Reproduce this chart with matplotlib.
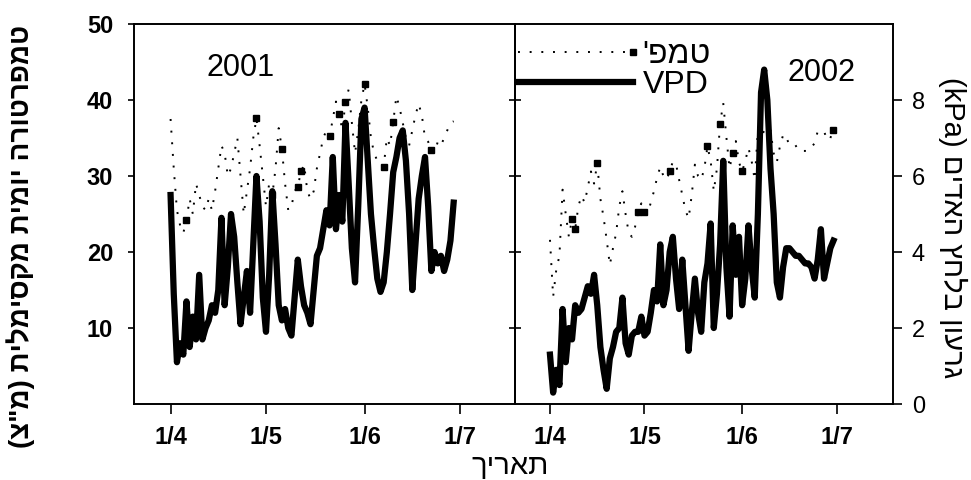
import matplotlib
matplotlib.use("Agg")
import matplotlib.pyplot as plt
from matplotlib.legend_handler import HandlerLine2D
from matplotlib.lines import Line2D
import pandas as pd

HEB = ["Liberation Sans", "DejaVu Sans"]
NARROW = ["Liberation Sans Narrow", "Liberation Sans", "DejaVu Sans"]

# daily values (Apr 1 .. ~Jul 1)
days_2001 = pd.date_range("2001-04-01", periods=90)
temp_2001 = [37.5, 31, 25.5, 23.5, 22.5, 24.2, 27, 25, 29, 27.5,
             26, 25.5, 27, 25.5, 28, 31, 34, 33, 30, 31,
             33, 35, 30, 25, 28, 31, 35, 37.6, 34, 30,
             26, 29, 27.5, 31, 36.3, 33.6, 29, 25.5, 26, 28,
             28.6, 30.6, 31.5, 28, 27, 28, 31, 33, 35, 36,
             35.2, 37.5, 39.8, 38.2, 36, 39.8, 41.4, 37, 33, 36,
             40, 42.1, 39, 35, 33, 32, 31.5, 31.2, 35, 34,
             37.1, 40.5, 39, 37, 35, 34, 36, 38, 39.5, 38,
             35, 34.5, 33.4, 33, 34.5, 34, 35, 36, 37, 37.2]
vpd_2001 = [5.5, 2.9, 1.1, 1.6, 1.3, 2.7, 1.5, 2.3, 1.7, 3.4,
            1.7, 2.0, 2.2, 2.6, 2.4, 3.0, 4.9, 2.6, 3.6, 5.0,
            4.4, 3.2, 2.1, 2.8, 3.5, 2.4, 4.2, 6.0, 4.8, 2.8,
            1.9, 3.4, 5.6, 4.2, 2.6, 2.2, 2.5, 2.0, 1.8, 2.8,
            3.8, 3.1, 2.6, 2.4, 2.1, 3.0, 3.9, 4.1, 4.6, 5.1,
            4.7, 6.5, 4.6, 5.5, 4.8, 7.4, 5.8, 4.1, 3.2, 5.2,
            7.5, 7.8, 6.4, 5.0, 4.1, 3.3, 2.95, 3.2, 4.0, 5.0,
            6.1, 6.5, 7.0, 7.2, 6.4, 5.0, 3.0, 4.2, 5.4, 6.0,
            6.5, 5.2, 3.5, 4.0, 3.7, 3.9, 3.5, 3.8, 4.3, 5.3]
marks_2001 = [5, 27, 32, 35, 40, 41, 50, 53, 55, 61, 67, 70, 82]

days_2002 = pd.date_range("2002-04-01", periods=91)
temp_2002 = [21.6, 14.1, 17.7, 19.5, 28.2, 25.0, 22.0, 24.4, 23.0, 26.0,
             27.4, 26.5, 28.5, 30.6, 29.0, 31.7, 27.0, 24.6, 21.6, 18.3,
             20.5, 22.5, 26.0, 28.0, 25.0, 22.5, 22.0, 23.3, 25.3, 26.4,
             25.3, 25.0, 26.5, 28.0, 29.8, 31.2, 30.0, 29.5, 30.6, 31.9,
             31.6, 29.5, 27.5, 25.5, 24.4, 27.5, 31.5, 30.0, 29.5, 31.0,
             33.9, 32.0, 28.0, 31.0, 36.9, 39.6, 35.1, 31.0, 33.0, 34.6,
             31.8, 30.6, 32.0, 33.7, 32.0, 29.5, 36.0, 35.0, 36.0, 35.5,
             36.0, 33.0, 31.8, 33.9, 35.4, 34.5, 34.7, 34.7, 34.0, 33.3,
             33.3, 33.3, 33.3, 33.8, 34.3, 35.9, 35.9, 35.9, 34.7, 35.0,
             36.0]
vpd_2002 = [1.3, 0.3, 0.9, 0.5, 2.5, 1.1, 2.0, 1.7, 2.6, 2.4,
            2.5, 2.8, 3.1, 2.9, 3.4, 2.6, 1.5, 0.9, 0.4, 1.2,
            1.5, 1.9, 2.0, 2.8, 1.6, 1.3, 1.8, 1.9, 1.9, 2.3,
            1.8, 1.9, 2.4, 3.0, 2.7, 4.2, 2.6, 3.0, 4.0, 4.4,
            3.3, 2.5, 3.8, 2.6, 1.4, 2.4, 3.3, 2.4, 1.9, 3.2,
            3.7, 4.75, 2.0, 2.9, 4.2, 6.4, 3.6, 2.3, 4.7, 3.4,
            4.4, 2.6, 3.3, 4.7, 3.6, 2.8, 5.0, 8.2, 8.8, 8.0,
            6.2, 5.0, 3.2, 2.8, 3.6, 4.1, 4.1, 4.0, 3.9, 3.9,
            3.8, 3.7, 3.7, 3.6, 3.3, 3.8, 4.6, 3.3, 3.7, 4.1,
            4.3]
marks_2002 = [7, 8, 15, 28, 30, 38, 50, 54, 58, 61, 90]

month_ticks = ["04-01", "05-01", "06-01", "07-01"]
month_labels = ["1/4", "1/5", "1/6", "1/7"]
temp_ticks = [10, 20, 30, 40, 50]
vpd_ticks = [0, 2, 4, 6, 8]

ylabel_left = 'טמפרטורה יומית מקסימלית (מ"צ)'
ylabel_right = "גרעון בלחץ האדים"
xlabel = "תאריך"
temp_label = "טמפ'"


def visual(s):
    # matplotlib has no bidi: lay the Hebrew out right-to-left by hand
    swap = {"(": ")", ")": "("}
    return "".join(swap.get(c, c) for c in reversed(s))


class EndMarker(HandlerLine2D):
    # dotted legend line with the square at its right end
    def create_artists(self, legend, orig_handle, xdescent, ydescent,
                       width, height, fontsize, trans):
        y = (height - ydescent) / 2
        line = Line2D([-xdescent, width - xdescent], [y, y])
        self.update_prop(line, orig_handle, legend)
        line.set_marker("None")
        mark = Line2D([width - xdescent], [y])
        self.update_prop(mark, orig_handle, legend)
        mark.set_linestyle("None")
        line.set_transform(trans)
        mark.set_transform(trans)
        return [line, mark]


TEMP_STYLE = dict(color="black", lw=1.4, ls=(0, (1, 5)), marker="s", ms=5)
VPD_STYLE = dict(color="black", lw=4.5)

fig = plt.figure(figsize=(9.71, 4.8), dpi=100)
ax1 = fig.add_axes([0.138, 0.1583, 0.3924, 0.7917])
ax2 = fig.add_axes([0.5304, 0.1583, 0.3893, 0.7917])

panels = [(ax1, days_2001, temp_2001, vpd_2001, marks_2001, "2001", (-11.5, 108.3), (0.28, 0.885)),
          (ax2, days_2002, temp_2002, vpd_2002, marks_2002, "2002", (-11.1, 108.9), (0.81, 0.872))]

for ax, days, temp, vpd, marks, year, lim, ypos in panels:
    start = days[0]
    ax.plot(days, temp, markevery=marks, **TEMP_STYLE)
    axt = ax.twinx()
    axt.plot(days, vpd, **VPD_STYLE)
    ax.set_ylim(0, 50)
    axt.set_ylim(0, 10)
    ax.set_xlim(start + pd.Timedelta(days=lim[0]), start + pd.Timedelta(days=lim[1]))
    ax.set_xticks(pd.to_datetime([f"{year}-{m}" for m in month_ticks]))
    ax.set_xticklabels(month_labels, family=NARROW, fontweight="bold", fontsize=17)
    ax.tick_params(axis="x", direction="out", length=7, width=1.2, pad=9)
    ax.text(ypos[0], ypos[1], year, transform=ax.transAxes, ha="center", va="center",
            fontsize=22, family=HEB)
    for a in (ax, axt):
        for sp in a.spines.values():
            sp.set_linewidth(1.2)
    ax.set_zorder(axt.get_zorder() + 1)
    ax.patch.set_visible(False)
    ax.axt = axt

# left panel: temperature scale
ax1.set_yticks(temp_ticks)
ax1.set_yticklabels([str(t) for t in temp_ticks], family=NARROW, fontweight="bold", fontsize=17)
ax1.tick_params(axis="y", direction="out", length=4, width=1.2, pad=11)
ax1.axt.tick_params(right=False, labelright=False)

# right panel: small ticks on the divider, VPD scale on the right
ax2.set_yticks(temp_ticks[:-1])
ax2.tick_params(axis="y", direction="inout", length=9, width=1.2, labelleft=False)
ax2.axt.set_yticks(vpd_ticks)
ax2.axt.set_yticklabels([str(v) for v in vpd_ticks], family=NARROW, fontsize=17)
ax2.axt.tick_params(axis="y", direction="out", length=6.5, width=1.2, pad=7)

handles = [Line2D([], [], **TEMP_STYLE), Line2D([], [], **VPD_STYLE)]
leg = ax2.legend(handles, [visual(temp_label), "VPD"], loc="upper left",
                 bbox_to_anchor=(0.008, 0.958), frameon=False, handlelength=3.6,
                 handletextpad=0.3, labelspacing=0.0, borderpad=0.0,
                 borderaxespad=0.0, prop=dict(family=HEB, size=23),
                 handler_map={handles[0]: EndMarker()})

fig.text(0.021, 0.508, visual(ylabel_left), rotation=90, ha="center", va="center",
         fontsize=20, fontweight="bold", family=HEB)
fig.text(0.981, 0.525, "(kPa) " + visual(ylabel_right), rotation=270, ha="center",
         va="center", fontsize=21, family=HEB)
fig.text(0.525, 0.03, visual(xlabel), ha="center", va="center", fontsize=21, family=HEB)

fig.savefig("out.png", dpi=100)
